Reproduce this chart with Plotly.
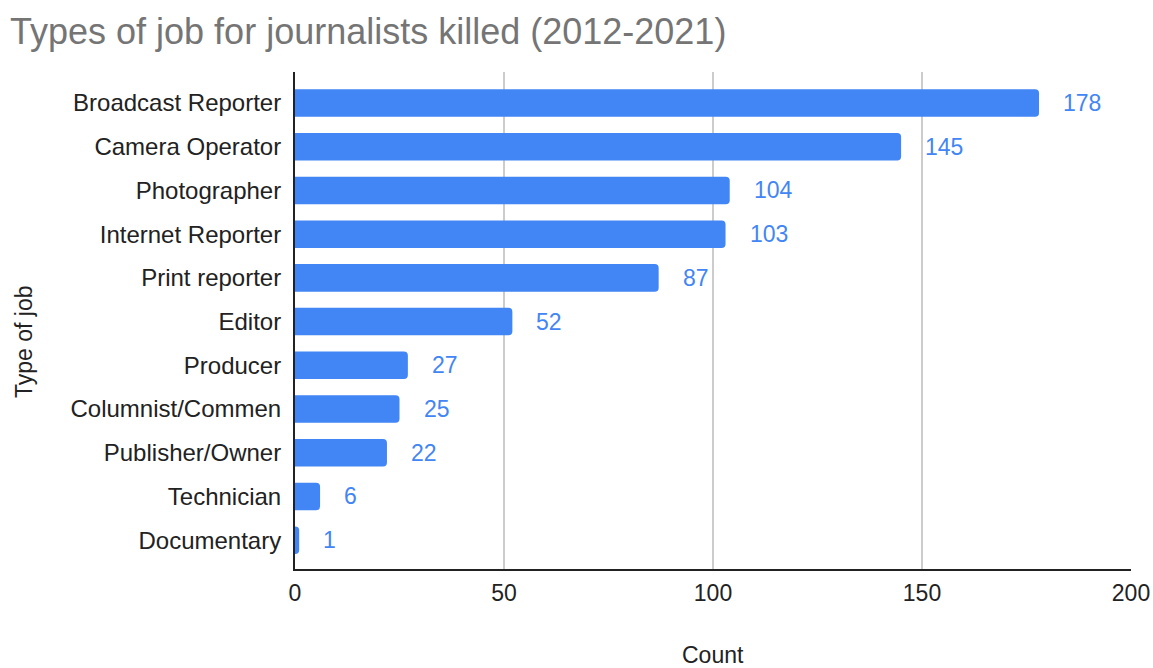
import plotly.graph_objects as go

categories = ["Broadcast Reporter", "Camera Operator", "Photographer", "Internet Reporter",
              "Print reporter", "Editor", "Producer", "Columnist/Commen",
              "Publisher/Owner", "Technician", "Documentary"]
counts = [178, 145, 104, 103, 87, 52, 27, 25, 22, 6, 1]
x_ticks = [0, 50, 100, 150, 200]

BLUE = "#4285F4"
FONT = "Liberation Sans, Arial"
W, H = 1153, 668
L, R, T, B = 295, 22, 72, 99
PW, PH = W - L - R, H - T - B

fig = go.Figure()
fig.add_trace(go.Bar(
    x=counts, y=categories, orientation="h",
    marker=dict(color=BLUE, line=dict(width=0)),
    width=0.63,
    hoverinfo="x+y",
))

for c, v in zip(categories, counts):
    fig.add_annotation(x=v, y=c, text=str(v), showarrow=False,
                       xanchor="left", yanchor="middle", xshift=22,
                       font=dict(family=FONT, size=23, color=BLUE))

# axis titles
fig.add_annotation(text="Count", xref="paper", yref="paper",
                   x=(713 - L) / PW, y=(H - B - 655) / PH,
                   xanchor="center", yanchor="middle", showarrow=False,
                   font=dict(family=FONT, size=23, color="#222222"))
fig.add_annotation(text="Type of job", xref="paper", yref="paper",
                   x=(24 - L) / PW, y=1 - (342 - T) / PH, textangle=-90,
                   xanchor="center", yanchor="middle", showarrow=False,
                   font=dict(family=FONT, size=23, color="#222222"))

fig.update_layout(
    width=W, height=H,
    margin=dict(l=L, r=R, t=T, b=B),
    paper_bgcolor="white", plot_bgcolor="white",
    barcornerradius=4,
    showlegend=False,
    title=dict(text="Types of job for journalists killed (2012-2021)",
               x=10 / W, xanchor="left", xref="container",
               y=1 - 31 / H, yanchor="middle", yref="container",
               font=dict(family=FONT, size=36, color="#757575")),
    xaxis=dict(range=[0, 200], tickvals=x_ticks, showgrid=True,
               gridcolor="#CCCCCC", gridwidth=1.5, automargin=False,
               showline=True, linecolor="#222222", linewidth=2,
               zeroline=False, ticks="", ticklabelstandoff=2,
               tickfont=dict(family=FONT, size=23, color="#222222")),
    yaxis=dict(categoryorder="array", categoryarray=categories,
               autorange=False, range=[10.66, -0.71], automargin=False,
               showline=True, linecolor="#222222", linewidth=2,
               showgrid=False, ticks="", ticklabelstandoff=7,
               tickfont=dict(family=FONT, size=24, color="#222222")),
)

fig.write_html(
    "out.html",
    config={"displayModeBar": False},
    post_script="document.body.style.margin='0';document.body.style.overflow='hidden';",
)
